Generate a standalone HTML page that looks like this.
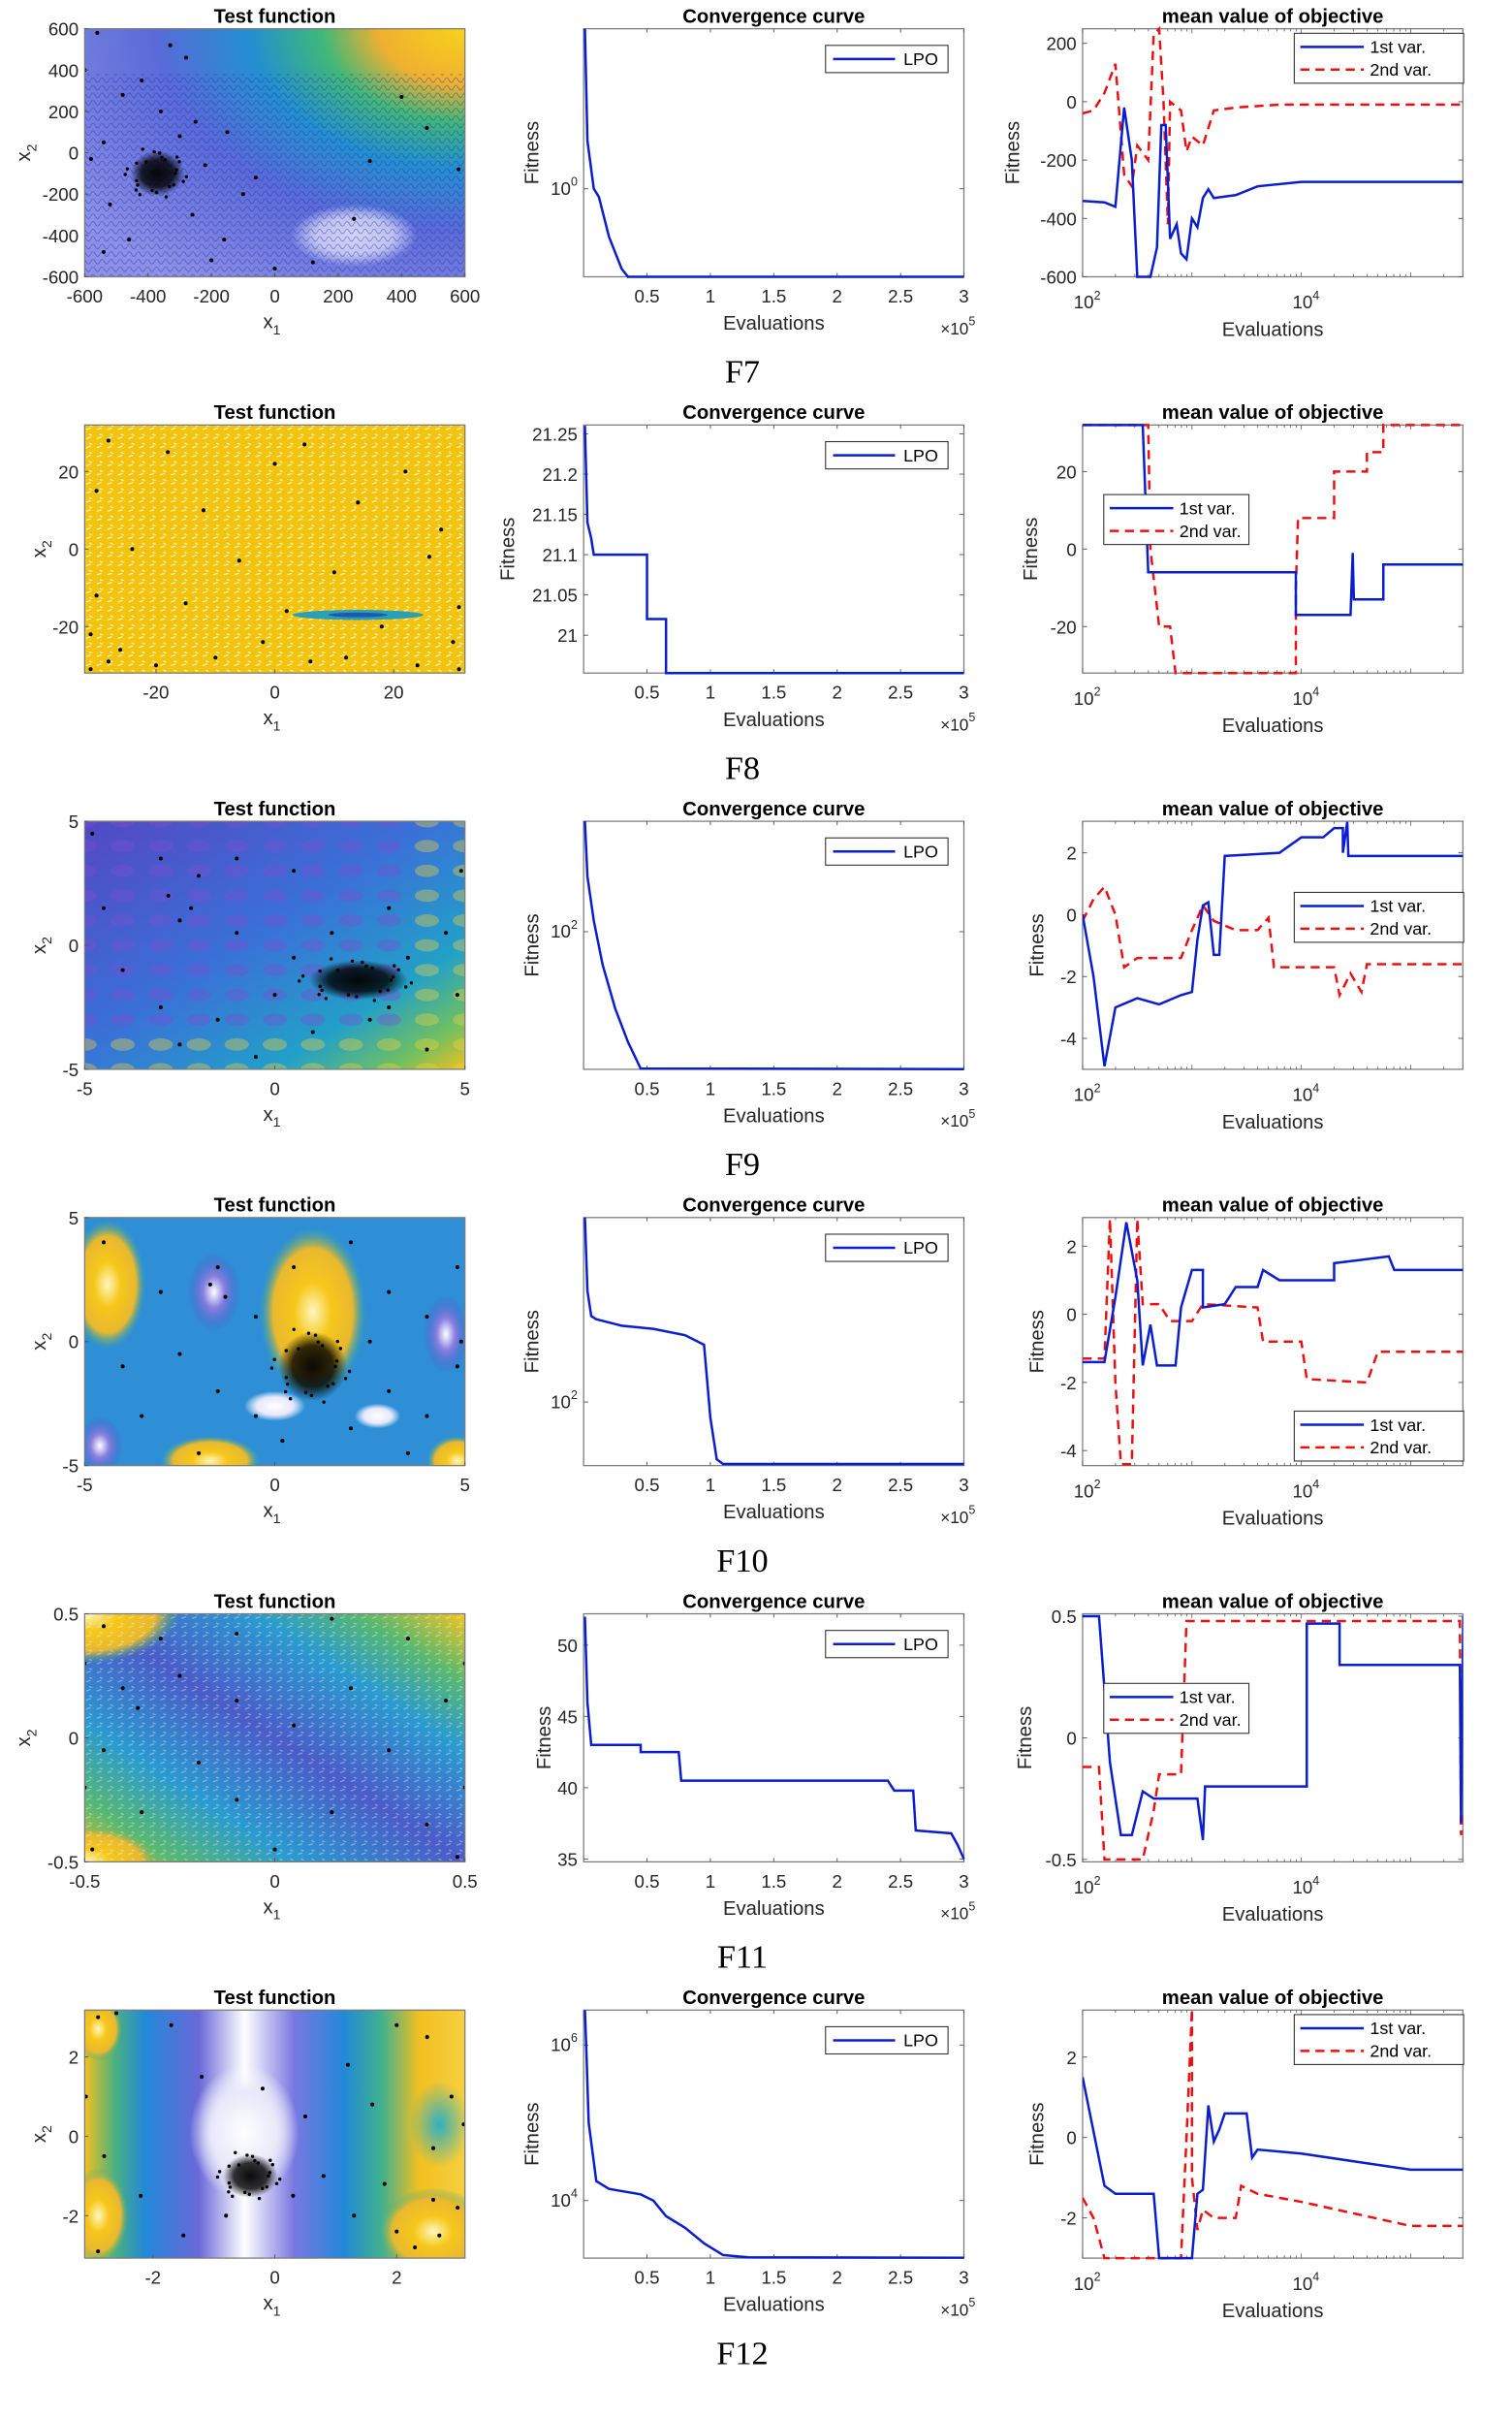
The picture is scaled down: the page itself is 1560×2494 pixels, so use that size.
<!DOCTYPE html>
<html><head><meta charset="utf-8">
<style>
html,body{margin:0;padding:0;background:#fff;}
svg{display:block;font-family:"Liberation Sans",Arial,sans-serif;}
</style></head>
<body>
<svg id="fig" xmlns="http://www.w3.org/2000/svg" width="1560" height="2494" viewBox="0 0 1000 1598.7">
<defs>
<radialGradient id="g7" cx="1" cy="0" r="1.25" gradientUnits="objectBoundingBox">
<stop offset="0" stop-color="#f7d21a"/><stop offset="0.18" stop-color="#f0b030"/><stop offset="0.3" stop-color="#40b878"/><stop offset="0.45" stop-color="#2290d0"/><stop offset="0.65" stop-color="#5a6ad8"/><stop offset="1" stop-color="#8c90e6"/></radialGradient>
<pattern id="stripes" width="6" height="5" patternUnits="userSpaceOnUse"><path d="M0 3 Q1.5 0 3 3 T6 3" fill="none" stroke="#2a2aa8" stroke-width="0.5" opacity="0.55"/></pattern>
<pattern id="speck" width="7" height="6" patternUnits="userSpaceOnUse"><path d="M1 2 l3 -1 M3 5 l2 1" stroke="#fff" stroke-width="0.8" opacity="0.8"/></pattern>
<linearGradient id="g9" x1="0" y1="0" x2="1" y2="1"><stop offset="0" stop-color="#5448c4"/><stop offset="0.45" stop-color="#3a70d8"/><stop offset="0.75" stop-color="#22a0c8"/><stop offset="0.9" stop-color="#70c060"/><stop offset="1" stop-color="#f0c020"/></linearGradient>
<linearGradient id="g11" x1="0" y1="1" x2="1" y2="0"><stop offset="0" stop-color="#f2c420"/><stop offset="0.12" stop-color="#58b870"/><stop offset="0.28" stop-color="#2a9ad0"/><stop offset="0.5" stop-color="#4a5cc8"/><stop offset="0.72" stop-color="#2a9ad0"/><stop offset="0.86" stop-color="#58b870"/><stop offset="1" stop-color="#f2c420"/></linearGradient>
<linearGradient id="g12" x1="0" y1="0" x2="1" y2="0"><stop offset="0" stop-color="#f2c020"/><stop offset="0.08" stop-color="#4ab080"/><stop offset="0.16" stop-color="#2288d8"/><stop offset="0.3" stop-color="#6a68d8"/><stop offset="0.42" stop-color="#ffffff"/><stop offset="0.55" stop-color="#7a78e0"/><stop offset="0.68" stop-color="#2288d8"/><stop offset="0.78" stop-color="#40b090"/><stop offset="0.88" stop-color="#f2c020"/><stop offset="1" stop-color="#f6d040"/></linearGradient>
<radialGradient id="gy"><stop offset="0" stop-color="#fff6c0"/><stop offset="0.35" stop-color="#f6c81a"/><stop offset="0.75" stop-color="#e8b830"/><stop offset="1" stop-color="#40b080" stop-opacity="0"/></radialGradient>
<radialGradient id="gp"><stop offset="0" stop-color="#ffffff"/><stop offset="0.4" stop-color="#8a80e0"/><stop offset="1" stop-color="#4a50c8" stop-opacity="0"/></radialGradient>
<radialGradient id="gw"><stop offset="0" stop-color="#ffffff"/><stop offset="0.6" stop-color="#e8e8fa"/><stop offset="1" stop-color="#ffffff" stop-opacity="0"/></radialGradient>
<radialGradient id="gt"><stop offset="0" stop-color="#30b0c0"/><stop offset="1" stop-color="#30b0c0" stop-opacity="0"/></radialGradient>
<radialGradient id="gc"><stop offset="0" stop-color="#000" stop-opacity="0.95"/><stop offset="0.6" stop-color="#000" stop-opacity="0.8"/><stop offset="1" stop-color="#000" stop-opacity="0"/></radialGradient>
</defs>
</svg>
<script>
// ---------- DATA ----------
const captions = ["F7","F8","F9","F10","F11","F12"];
const legendLabels = ["1st var.","2nd var."];
const convLegend = "LPO";
const tfRange7 = [-600,600,-600,600];
const tfRange8 = [-32,32,-32,32];
const tfRange9 = [-5,5,-5,5];
const tfRange10 = [-5,5,-5,5];
const tfRange11 = [-0.5,0.5,-0.5,0.5];
const tfRange12 = [-3.12,3.12,-3.07,3.18];
const tfTicks7 = [-600,-400,-200,0,200,400,600];
const tfTicks8 = [-20,0,20];
const tfTicks9 = [-5,0,5];
const tfTicks10 = [-5,0,5];
const tfTicks11 = [-0.5,0,0.5];
const tfTicks12 = [-2,0,2];
const cluster7 = [-370,-100,85,110];
const cluster9 = [2.2,-1.4,1.3,0.8];
const cluster10 = [1,-1,0.9,1.4];
const cluster12 = [-0.4,-1,0.45,0.55];
const pts7 = [[-560,580],[-330,520],[-280,460],[-420,350],[-480,280],[-360,200],[-250,150],[-150,100],[-300,80],[-540,50],[-220,-60],[-100,-200],[-520,-250],[-260,-300],[-460,-420],[-540,-480],[-200,-520],[0,-560],[120,-530],[250,-320],[400,270],[480,120],[580,-80],[-580,-30],[-600,400],[300,-40],[-160,-420],[-60,-120]];
const pts8 = [[-28,28],[-18,25],[5,27],[22,20],[-30,15],[-12,10],[14,12],[28,5],[-24,0],[-6,-3],[10,-6],[26,-2],[-30,-12],[-15,-14],[2,-16],[18,-20],[30,-24],[-26,-26],[-10,-28],[6,-29],[24,-30],[-20,-30],[-31,-31],[31,-31],[-31,-22],[31,-15],[0,22],[-2,-24],[12,-28],[-28,-29]];
const pts9 = [[-4.8,4.5],[-3,3.5],[-2,2.8],[-1,3.5],[0.5,3],[-4.5,1.5],[-2.5,1],[-1,0.5],[0.5,-0.5],[1.5,0.5],[3,1.5],[4.5,0.5],[-4,-1],[-3,-2.5],[-1.5,-3],[0,-2],[1,-3.5],[2.5,-3],[3.5,-0.5],[4.8,-2],[-2.5,-4],[-0.5,-4.5],[4,-4.2],[-2.8,2],[-2.2,1.5],[3,-2.5],[4.9,3]];
const pts10 = [[-4.5,4],[-3,2],[-1.5,3],[-0.5,1],[0.5,3],[2,4],[3,2],[4,1],[4.8,3],[-4,-1],[-2.5,-0.5],[-1.5,-2],[-0.5,-3],[0.2,-4],[2,-3.5],[3,-2],[4,-3],[4.8,-1],[-3.5,-3],[-2,-4.5],[2.5,0],[3.5,-4.5],[-1.3,1.8],[-1.7,2.3],[4.9,0]];
const pts11 = [[-0.45,0.45],[-0.3,0.4],[-0.1,0.42],[0.15,0.48],[0.35,0.4],[-0.4,0.2],[-0.25,0.25],[-0.36,0.12],[-0.1,0.15],[0.2,0.2],[0.45,0.15],[-0.45,-0.05],[-0.2,-0.1],[0.05,0.05],[0.3,-0.05],[-0.35,-0.3],[-0.1,-0.25],[0.15,-0.3],[0.4,-0.35],[-0.48,-0.45],[0.48,-0.48],[-0.5,0.3],[0.5,0.3],[-0.5,-0.2],[0.5,-0.2],[0,-0.45]];
const pts12 = [[-2.9,3],[-2.6,3.1],[-1.7,2.8],[-1.2,1.5],[-0.2,1.2],[0.5,0.5],[1.2,1.8],[2,2.8],[2.5,2.5],[2.9,1],[2.6,-0.3],[-2.8,-0.5],[-2.2,-1.5],[-1.5,-2.5],[-0.8,-2],[0.3,-1.5],[0.8,-1],[1.3,-2],[2,-2.4],[2.3,-2.8],[2.7,-2.5],[3,-1.8],[1.8,-1.2],[2.6,-1.6],[-3.1,1],[3.1,0.3],[-2.9,-2.9],[1.6,0.8]];
const convEval7 = [0.01,0.03,0.08,0.12,0.2,0.3,0.35,3];
const convFit7  = [1.0,0.3,0.0,-0.05,-0.3,-0.5,-0.55,-0.55];
const convEval8 = [0.01,0.03,0.06,0.08,0.5,0.5,0.65,0.65,3];
const convFit8  = [21.26,21.14,21.12,21.1,21.1,21.02,21.02,20.953,20.953];
const convEval9 = [0.01,0.03,0.08,0.15,0.25,0.35,0.45,3];
const convFit9  = [3.0,2.5,2.1,1.7,1.3,1.0,0.76,0.755];
const convEval10 = [0.01,0.03,0.06,0.1,0.3,0.55,0.8,0.95,1.0,1.05,1.1,3];
const convFit10  = [2.58,2.35,2.27,2.26,2.24,2.23,2.21,2.18,1.95,1.82,1.805,1.805];
const convEval11 = [0.01,0.03,0.06,0.45,0.45,0.75,0.77,2.4,2.45,2.6,2.62,2.9,2.95,3];
const convFit11  = [52,46,43,43,42.5,42.5,40.5,40.5,39.8,39.8,37,36.8,36,35];
const convEval12 = [0.01,0.02,0.04,0.1,0.2,0.45,0.55,0.65,0.8,0.95,1.1,1.3,3];
const convFit12  = [6.45,6.0,5.0,4.25,4.15,4.08,4.0,3.8,3.65,3.45,3.3,3.27,3.265];
const convRange7 = [-0.55,1.0]; const convTicks7 = [0];
const convRange8 = [20.953,21.261]; const convTicks8 = [21,21.05,21.1,21.15,21.2,21.25];
const convRange9 = [0.753,3.0]; const convTicks9 = [2];
const convRange10 = [1.8,2.58]; const convTicks10 = [2];
const convRange11 = [34.8,52.2]; const convTicks11 = [35,40,45,50];
const convRange12 = [3.26,6.45]; const convTicks12 = [4,6];
const convLog = [true,false,true,true,false,true];
const v1x7 = [2,2.2,2.3,2.38,2.45,2.5,2.62,2.68,2.72,2.76,2.8,2.86,2.9,2.95,3.0,3.05,3.1,3.15,3.2,3.4,3.6,4.0,5.48];
const v1y7 = [-340,-345,-360,-20,-200,-600,-600,-500,-80,-80,-470,-420,-520,-540,-400,-430,-330,-300,-330,-320,-290,-275,-275];
const v2x7 = [2,2.1,2.2,2.3,2.38,2.45,2.5,2.6,2.65,2.7,2.74,2.78,2.8,2.9,2.95,3.0,3.1,3.2,3.4,3.8,5.48];
const v2y7 = [-40,-30,30,130,-250,-290,-150,-200,230,250,0,-420,0,-30,-170,-120,-150,-30,-20,-10,-10];
const v1x8 = [2,2.55,2.6,3.95,3.95,4.45,4.47,4.48,4.75,4.75,5.48];
const v1y8 = [32,32,-6,-6,-17,-17,-1,-13,-13,-4,-4];
const v2x8 = [2,2.6,2.62,2.7,2.8,2.85,3.95,3.95,3.97,4.3,4.3,4.6,4.6,4.75,4.75,5.48];
const v2y8 = [32,32,0,-20,-20,-32,-32,-10,8,8,20,20,25,25,32,32];
const v1x9 = [2,2.1,2.2,2.3,2.5,2.7,2.9,3.0,3.05,3.1,3.15,3.2,3.25,3.3,3.8,4.0,4.2,4.3,4.38,4.38,4.42,4.43,5.48];
const v1y9 = [0,-2,-4.9,-3,-2.7,-2.9,-2.6,-2.5,-0.8,0.3,0.4,-1.3,-1.3,1.9,2.0,2.5,2.5,2.8,2.8,2.0,3.0,1.9,1.9];
const v2x9 = [2,2.1,2.2,2.3,2.38,2.5,2.9,3.0,3.1,3.2,3.4,3.6,3.7,3.75,4.3,4.35,4.45,4.55,4.6,5.48];
const v2y9 = [-0.2,0.5,0.9,0,-1.7,-1.4,-1.4,-0.5,0.3,-0.2,-0.5,-0.5,-0.1,-1.7,-1.7,-2.6,-1.9,-2.5,-1.6,-1.6];
const v1x10 = [2,2.2,2.3,2.4,2.5,2.55,2.62,2.68,2.85,2.9,3.0,3.1,3.1,3.3,3.4,3.6,3.65,3.8,4.3,4.3,4.8,4.85,5.48];
const v1y10 = [-1.4,-1.4,0.5,2.7,1,-1.5,-0.3,-1.5,-1.5,0.2,1.3,1.3,0.2,0.3,0.8,0.8,1.3,1.0,1.0,1.5,1.7,1.3,1.3];
const v2x10 = [2,2.2,2.25,2.3,2.35,2.45,2.5,2.55,2.7,2.8,3.0,3.1,3.6,3.65,4.0,4.05,4.6,4.7,5.48];
const v2y10 = [-1.3,-1.3,2.8,-2,-4.4,-4.4,2.8,0.3,0.3,-0.2,-0.2,0.3,0.2,-0.8,-0.8,-1.9,-2,-1.1,-1.1];
const v1x11 = [2,2.15,2.25,2.35,2.45,2.55,2.65,3.05,3.1,3.12,4.05,4.05,4.35,4.35,5.45,5.46,5.48];
const v1y11 = [0.5,0.5,-0.1,-0.4,-0.4,-0.22,-0.25,-0.25,-0.42,-0.2,-0.2,0.47,0.47,0.3,0.3,-0.35,0.5];
const v2x11 = [2,2.15,2.2,2.55,2.65,2.7,2.9,2.95,5.45,5.46,5.48];
const v2y11 = [-0.12,-0.12,-0.5,-0.5,-0.3,-0.15,-0.15,0.48,0.48,-0.4,-0.3];
const v1x12 = [2,2.2,2.3,2.65,2.7,3.0,3.05,3.1,3.15,3.2,3.25,3.3,3.5,3.55,3.6,4.0,4.5,5.0,5.48];
const v1y12 = [1.5,-1.2,-1.4,-1.4,-3,-3,-1.4,-1.3,0.8,-0.1,0.2,0.6,0.6,-0.5,-0.3,-0.4,-0.6,-0.8,-0.8];
const v2x12 = [2,2.1,2.2,2.9,2.95,3.0,3.0,3.05,3.1,3.2,3.4,3.45,3.6,4.0,5.0,5.48];
const v2y12 = [-1.5,-2,-3,-3,0,3.2,-1.0,-2.3,-1.8,-2,-2,-1.2,-1.4,-1.6,-2.2,-2.2];
const mvRange7 = [-600,250]; const mvTicks7 = [-600,-400,-200,0,200];
const mvRange8 = [-32,32]; const mvTicks8 = [-20,0,20];
const mvRange9 = [-5,3.02]; const mvTicks9 = [-4,-2,0,2];
const mvRange10 = [-4.44,2.84]; const mvTicks10 = [-4,-2,0,2];
const mvRange11 = [-0.51,0.51]; const mvTicks11 = [-0.5,0,0.5];
const mvRange12 = [-3.0,3.17]; const mvTicks12 = [-2,0,2];
const mvLegendPos = ["tr","ml","mr","br","ml","tr"];
const convXTicks = [0.5,1,1.5,2,2.5,3];
const logXRange = [2,5.477];

// ---------- DRAWING ----------
const NS = "http://www.w3.org/2000/svg";
const svg = document.getElementById("fig");
function mk(tag, attrs, parent, name, inter){
  const e = document.createElementNS(NS, tag);
  for (const k in attrs) e.setAttribute(k, attrs[k]);
  
  
  (parent || svg).appendChild(e);
  return e;
}
function txt(x,y,s,parent,name,extra){
  const a = Object.assign({x:x,y:y,'font-size':12,fill:'#262626','text-anchor':'middle'}, extra||{});
  const t = mk('text', a, parent, name, false);
  t.textContent = s;
  return t;
}
function scale(d0,d1,r0,r1){ return v => r0 + (v-d0)/(d1-d0)*(r1-r0); }
function poly(xs,ys,sx,sy,parent,name,attrs){
  let d = '';
  for (let i=0;i<xs.length;i++) d += (i?'L':'M') + sx(xs[i]).toFixed(2) + ' ' + sy(ys[i]).toFixed(2);
  return mk('path', Object.assign({d:d,fill:'none'},attrs), parent, name, false);
}
function fmt(v){ return (v<0?'-':'') + String(Math.abs(v)); }

const TF = [tfRange7,tfRange8,tfRange9,tfRange10,tfRange11,tfRange12];
const TFT = [tfTicks7,tfTicks8,tfTicks9,tfTicks10,tfTicks11,tfTicks12];
const CL = [cluster7,null,cluster9,cluster10,null,cluster12];
const PTS = [pts7,pts8,pts9,pts10,pts11,pts12];
const CE = [convEval7,convEval8,convEval9,convEval10,convEval11,convEval12];
const CF = [convFit7,convFit8,convFit9,convFit10,convFit11,convFit12];
const CR = [convRange7,convRange8,convRange9,convRange10,convRange11,convRange12];
const CT = [convTicks7,convTicks8,convTicks9,convTicks10,convTicks11,convTicks12];
const V1X = [v1x7,v1x8,v1x9,v1x10,v1x11,v1x12], V1Y = [v1y7,v1y8,v1y9,v1y10,v1y11,v1y12];
const V2X = [v2x7,v2x8,v2x9,v2x10,v2x11,v2x12], V2Y = [v2y7,v2y8,v2y9,v2y10,v2y11,v2y12];
const MR = [mvRange7,mvRange8,mvRange9,mvRange10,mvRange11,mvRange12];
const MT = [mvTicks7,mvTicks8,mvTicks9,mvTicks10,mvTicks11,mvTicks12];

const PW = 251.5, PH = 164, COLX = [56,386,716], PITCH = 262;

function frame(g,x0,y0,name){
  mk('rect',{x:x0,y:y0,width:PW,height:PH,fill:'none',stroke:'#7a7a7a','stroke-width':0.8},g,name,false);
}

function background(g,r,x0,y0,sx,sy){
  const cp = mk('clipPath',{id:'clip'+r},g,'plot-clip',false);
  mk('rect',{x:x0,y:y0,width:PW,height:PH},cp,'clip-rect',false);
  const bg = mk('g',{'clip-path':'url(#clip'+r+')'},g,'heatmap',false);
  const R = (x,y,w,h,f,n)=>mk('rect',{x:x,y:y,width:w,height:h,fill:f},bg,n,false);
  const E = (cx,cy,rx,ry,f,n,op)=>mk('ellipse',{cx:sx(cx),cy:sy(cy),rx:Math.abs(sx(rx)-sx(0)),ry:Math.abs(sy(ry)-sy(0)),fill:f,opacity:op==null?1:op},bg,n,false);
  if (r===0){
    R(x0,y0,PW,PH,'url(#g7)','heat-base');
    E(250,-400,200,150,'url(#gw)','heat-white-basin',0.7);
    R(x0,y0+30,PW,PH,'url(#stripes)','contour-lines');
  } else if (r===1){
    R(x0,y0,PW,PH,'#f2c40e','heat-base');
    R(x0,y0,PW,PH,'url(#speck)','contour-specks');
    E(14,-17,11,1.3,'#2aa0b8','heat-valley');
    E(14,-17,5,0.6,'#1a5ab0','heat-valley-core');
  } else if (r===2){
    R(x0,y0,PW,PH,'url(#g9)','heat-base');
    for (let i=-5;i<=5;i++) for (let j=-5;j<=5;j++){
      E(i,j,0.32,0.25,(j<-3.5||i>3.5)?'#e8d040':'#7a50d0','heat-lattice-cell',0.4);
    }
  } else if (r===3){
    R(x0,y0,PW,PH,'#2f8fd6','heat-base');
    E(-4.4,2.3,1.0,2.6,'url(#gy)','heat-peak');
    E(1.0,1.2,1.4,3.4,'url(#gy)','heat-peak');
    E(-1.7,-4.8,1.3,1.0,'url(#gy)','heat-peak');
    E(4.8,-4.8,0.8,1.0,'url(#gy)','heat-peak');
    E(-1.6,2.0,0.7,1.6,'url(#gp)','heat-basin');
    E(4.5,0.3,0.6,1.6,'url(#gp)','heat-basin');
    E(-4.6,-4.2,0.6,1.2,'url(#gp)','heat-basin');
    E(0,-2.6,0.8,0.6,'url(#gw)','heat-saddle');
    E(2.7,-3,0.6,0.5,'url(#gw)','heat-saddle');
  } else if (r===4){
    R(x0,y0,PW,PH,'url(#g11)','heat-base');
    E(-0.5,0.5,0.25,0.2,'url(#gy)','heat-peak');
    E(-0.5,-0.5,0.2,0.15,'url(#gy)','heat-peak');
    R(x0,y0,PW,PH,'url(#speck)','contour-specks').setAttribute('opacity','0.5');
  } else {
    R(x0,y0,PW,PH,'url(#g12)','heat-base');
    E(2.6,-2.4,0.9,1.1,'url(#gy)','heat-peak');
    E(-2.9,-2.0,0.5,1.2,'url(#gy)','heat-peak');
    E(-2.9,2.7,0.4,0.8,'url(#gy)','heat-peak');
    E(2.7,0.3,0.5,1.1,'url(#gt)','heat-ridge');
    E(-0.5,0.1,0.9,1.7,'url(#gw)','heat-basin');
  }
}

for (let r=0;r<6;r++){
  const oy = r*PITCH;
  const top = 19+oy, bot = top+PH;
  const row = mk('g',{},svg,'row-'+captions[r].toLowerCase(),false);

  const p1 = mk('g',{},row,'test-function-panel',false);
  const [a,b,c,d] = TF[r];
  const x0 = COLX[0];
  const sx = scale(a,b,x0,x0+PW), sy = scale(c,d,bot,top);
  background(p1,r,x0,top,sx,sy);
  const dots = mk('g',{'clip-path':'url(#clip'+r+')'},p1,'search-agents',false);
  const cl = CL[r];
  if (cl){
    const ccx = sx(cl[0]), ccy = sy(cl[1]);
    const crx = Math.abs(sx(cl[2])-sx(0)), cry = Math.abs(sy(cl[3])-sy(0));
    mk('ellipse',{cx:ccx,cy:ccy,rx:crx,ry:cry,fill:'url(#gc)'},dots,'agent-cluster',false);
    for (let k=0;k<24;k++){
      const ang = k*2.4, rad = 0.55+0.5*((k*7)%10)/10;
      mk('circle',{cx:ccx+Math.cos(ang)*crx*rad*1.2,cy:ccy+Math.sin(ang)*cry*rad*1.2,r:1.1,fill:'#000'},dots,'agent-cluster-point',false);
    }
  }
  for (const p of PTS[r]){
    mk('circle',{cx:sx(p[0]),cy:sy(p[1]),r:1.3,fill:'#000'},dots,'agent-point',false);
  }
  frame(p1,x0,top,'test-function-axes');
  for (const t of TFT[r]){
    const X = sx(t), Y = sy(t);
    mk('line',{x1:X,y1:bot,x2:X,y2:bot-2.5,stroke:'#555','stroke-width':0.6},p1,'x-tick',false);
    txt(X,bot+17,fmt(t),p1,'x-tick-label');
    mk('line',{x1:x0,y1:Y,x2:x0+2.5,y2:Y,stroke:'#555','stroke-width':0.6},p1,'y-tick',false);
    txt(x0-4,Y+4.5,fmt(t),p1,'y-tick-label',{'text-anchor':'end'});
  }
  txt(x0+PW/2,top-4,'Test function',p1,'test-function-title',{'font-weight':'bold','font-size':13,fill:'#000'});
  const xl = txt(x0+PW/2-2,bot+34,'x',p1,'x1-axis-label',{'font-size':13});
  const s1 = mk('tspan',{'font-size':9,dy:4},xl,'subscript',false); s1.textContent='1';
  const yl = txt(0,0,'x',p1,'x2-axis-label',{'font-size':13,transform:'translate('+(x0-(r===0||r===4?36:26))+','+(top+PH/2)+') rotate(-90)'});
  const s2 = mk('tspan',{'font-size':9,dy:4},yl,'subscript',false); s2.textContent='2';

  const p2 = mk('g',{},row,'convergence-panel',false);
  const cx0 = COLX[1];
  const csx = scale(0,3,cx0,cx0+PW), csy = scale(CR[r][0],CR[r][1],bot,top);
  frame(p2,cx0,top,'convergence-axes');
  for (const t of convXTicks){
    const X = csx(t);
    mk('line',{x1:X,y1:bot,x2:X,y2:bot-2.5,stroke:'#555','stroke-width':0.6},p2,'x-tick',false);
    mk('line',{x1:X,y1:top,x2:X,y2:top+2.5,stroke:'#555','stroke-width':0.6},p2,'x-tick-top',false);
    txt(X,bot+17,String(t),p2,'x-tick-label');
  }
  for (const t of CT[r]){
    const Y = csy(t);
    mk('line',{x1:cx0,y1:Y,x2:cx0+3,y2:Y,stroke:'#555','stroke-width':0.6},p2,'y-tick',false);
    mk('line',{x1:cx0+PW,y1:Y,x2:cx0+PW-3,y2:Y,stroke:'#555','stroke-width':0.6},p2,'y-tick-right',false);
    if (convLog[r]){
      const tt = txt(cx0-4,Y+4,'10',p2,'y-tick-label',{'text-anchor':'end'});
      const sp = mk('tspan',{'font-size':8,dy:-6},tt,'exponent',false); sp.textContent = String(t);
    } else {
      txt(cx0-4,Y+4.5,String(t),p2,'y-tick-label',{'text-anchor':'end'});
    }
  }
  poly(CE[r],CF[r],csx,csy,p2,'lpo-curve',{stroke:'#0a1ecf','stroke-width':1.6});
  txt(cx0+PW/2,top-4,'Convergence curve',p2,'convergence-title',{'font-weight':'bold','font-size':13,fill:'#000'});
  txt(cx0+PW/2,bot+35,'Evaluations',p2,'x-axis-title',{'font-size':13});
  const xe = txt(cx0+PW-4,bot+38,'\u00d710',p2,'x-exponent-label',{'font-size':11});
  const xe2 = mk('tspan',{'font-size':8,dy:-6},xe,'exponent',false); xe2.textContent='5';
  txt(0,0,'Fitness',p2,'y-axis-title',{'font-size':13,transform:'translate('+(cx0-(convLog[r]?30:(r===1?46:22)))+','+(top+PH/2)+') rotate(-90)'});
  const lg = mk('g',{},p2,'legend',true);
  mk('rect',{x:cx0+160,y:top+11,width:81,height:18,fill:'#fff',stroke:'#333','stroke-width':0.7},lg,'legend-box',false);
  mk('line',{x1:cx0+165,y1:top+20,x2:cx0+206,y2:top+20,stroke:'#0a1ecf','stroke-width':1.6},lg,'legend-swatch',false);
  txt(cx0+223,top+24,convLegend,lg,'legend-label',{'font-size':11.5,fill:'#000'});

  const p3 = mk('g',{},row,'mean-value-panel',false);
  const mx0 = COLX[2];
  const msx = scale(logXRange[0],logXRange[1],mx0,mx0+PW), msy = scale(MR[r][0],MR[r][1],bot,top);
  frame(p3,mx0,top,'mean-value-axes');
  for (let dd=2; dd<=5; dd++){
    for (let m=1;m<=9;m++){
      const lv = dd+Math.log10(m);
      if (lv>logXRange[1]) continue;
      const X = msx(lv), L = m===1?3:1.8;
      mk('line',{x1:X,y1:bot,x2:X,y2:bot-L,stroke:'#555','stroke-width':0.5},p3,'x-minor-tick',false);
      mk('line',{x1:X,y1:top,x2:X,y2:top+L,stroke:'#555','stroke-width':0.5},p3,'x-minor-tick-top',false);
    }
  }
  for (const e of [2,4]){
    const tt = txt(msx(e)+3,bot+21,'10',p3,'x-tick-label');
    const sp = mk('tspan',{'font-size':8,dy:-6},tt,'exponent',false); sp.textContent=String(e);
  }
  for (const t of MT[r]){
    const Y = msy(t);
    mk('line',{x1:mx0,y1:Y,x2:mx0+3,y2:Y,stroke:'#555','stroke-width':0.6},p3,'y-tick',false);
    mk('line',{x1:mx0+PW,y1:Y,x2:mx0+PW-3,y2:Y,stroke:'#555','stroke-width':0.6},p3,'y-tick-right',false);
    txt(mx0-4,Y+4.5,fmt(t),p3,'y-tick-label',{'text-anchor':'end'});
  }
  const clip3 = mk('clipPath',{id:'mclip'+r},p3,'plot-clip',false);
  mk('rect',{x:mx0,y:top-1.5,width:PW,height:PH+3},clip3,'clip-rect',false);
  const lines = mk('g',{'clip-path':'url(#mclip'+r+')'},p3,'series',false);
  poly(V2X[r],V2Y[r],msx,msy,lines,'second-var-line',{stroke:'#ee1010','stroke-width':1.6,'stroke-dasharray':'6,4'});
  poly(V1X[r],V1Y[r],msx,msy,lines,'first-var-line',{stroke:'#0a1ecf','stroke-width':1.6});
  txt(mx0+PW/2,top-4,'mean value of objective',p3,'mean-value-title',{'font-weight':'bold','font-size':13,fill:'#000'});
  txt(mx0+PW/2,bot+39,'Evaluations',p3,'x-axis-title',{'font-size':13});
  const ylw = (r===0)?42:(r===1?30:(r===4?34:26));
  txt(0,0,'Fitness',p3,'y-axis-title',{'font-size':13,transform:'translate('+(mx0-ylw)+','+(top+PH/2)+') rotate(-90)'});
  const pos = mvLegendPos[r];
  let lx, ly;
  if (pos==='tr'){ lx = mx0+140; ly = top+3; }
  else if (pos==='ml'){ lx = mx0+14; ly = top+46; }
  else if (pos==='mr'){ lx = mx0+140; ly = top+47; }
  else { lx = mx0+140; ly = top+128; }
  const lg3 = mk('g',{},p3,'legend',true);
  mk('rect',{x:lx,y:ly,width:(pos==='ml'?96:112),height:33,fill:'#fff',stroke:'#333','stroke-width':0.7},lg3,'legend-box',false);
  mk('line',{x1:lx+4,y1:ly+9,x2:lx+46,y2:ly+9,stroke:'#0a1ecf','stroke-width':1.6},lg3,'legend-swatch-1st',false);
  txt(lx+50,ly+13,legendLabels[0],lg3,'legend-label-1st',{'font-size':11.5,fill:'#000','text-anchor':'start'});
  mk('line',{x1:lx+4,y1:ly+24,x2:lx+46,y2:ly+24,stroke:'#ee1010','stroke-width':1.6,'stroke-dasharray':'6,4'},lg3,'legend-swatch-2nd',false);
  txt(lx+50,ly+28,legendLabels[1],lg3,'legend-label-2nd',{'font-size':11.5,fill:'#000','text-anchor':'start'});

  txt(491,bot+70,captions[r],row,'figure-caption',{'font-size':22,fill:'#000','font-family':'"Liberation Serif",serif'});
}
</script>
</body></html>
